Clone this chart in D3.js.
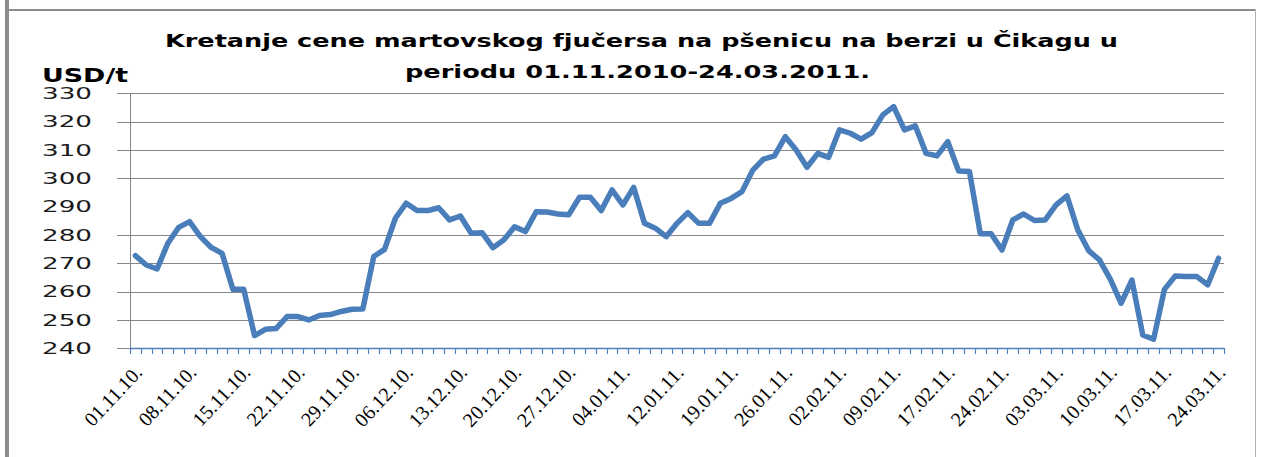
<!DOCTYPE html>
<html>
<head>
<meta charset="utf-8">
<script src="https://cdn.jsdelivr.net/npm/d3@7/dist/d3.min.js"></script>
<style>
  html, body { margin: 0; padding: 0; background: #ffffff; }
  svg { display: block; }
</style>
</head>
<body>
<svg id="chart" width="1265" height="457"></svg>
<script>
// ---- data ----
const dates = [
  "01.11.10.","02.11.10.","03.11.10.","04.11.10.","05.11.10.","08.11.10.","09.11.10.","10.11.10.","11.11.10.","12.11.10.",
  "15.11.10.","16.11.10.","17.11.10.","18.11.10.","19.11.10.","22.11.10.","23.11.10.","24.11.10.","25.11.10.","26.11.10.",
  "29.11.10.","30.11.10.","01.12.10.","02.12.10.","03.12.10.","06.12.10.","07.12.10.","08.12.10.","09.12.10.","10.12.10.",
  "13.12.10.","14.12.10.","15.12.10.","16.12.10.","17.12.10.","20.12.10.","21.12.10.","22.12.10.","23.12.10.","24.12.10.",
  "27.12.10.","28.12.10.","29.12.10.","30.12.10.","31.12.10.","04.01.11.","05.01.11.","06.01.11.","10.01.11.","11.01.11.",
  "12.01.11.","13.01.11.","14.01.11.","17.01.11.","18.01.11.","19.01.11.","20.01.11.","21.01.11.","24.01.11.","25.01.11.",
  "26.01.11.","27.01.11.","28.01.11.","31.01.11.","01.02.11.","02.02.11.","03.02.11.","04.02.11.","07.02.11.","08.02.11.",
  "09.02.11.","10.02.11.","11.02.11.","14.02.11.","16.02.11.","17.02.11.","18.02.11.","21.02.11.","22.02.11.","23.02.11.",
  "24.02.11.","25.02.11.","28.02.11.","01.03.11.","02.03.11.","03.03.11.","04.03.11.","07.03.11.","08.03.11.","09.03.11.",
  "10.03.11.","11.03.11.","14.03.11.","15.03.11.","16.03.11.","17.03.11.","18.03.11.","21.03.11.","22.03.11.","23.03.11.",
  "24.03.11."
];
const prices = [
  272.7, 269.4, 268.0, 277.1, 282.7, 284.7, 279.4, 275.6, 273.5, 260.8,
  260.8, 244.5, 246.7, 247.0, 251.2, 251.2, 250.0, 251.6, 251.9, 253.0,
  253.8, 253.9, 272.4, 274.9, 285.9, 291.2, 288.6, 288.6, 289.6, 285.3,
  286.7, 280.6, 280.8, 275.5, 278.2, 282.9, 281.2, 288.2, 288.1, 287.4,
  287.1, 293.3, 293.3, 288.6, 295.9, 290.6, 296.8, 284.1, 282.4, 279.4,
  284.1, 287.9, 284.1, 284.1, 291.2, 292.9, 295.3, 302.9, 306.8, 307.9,
  314.7, 310.0, 303.9, 308.8, 307.4, 317.1, 315.9, 313.8, 316.1, 322.4,
  325.3, 317.1, 318.5, 308.8, 307.9, 312.9, 302.6, 302.4, 280.4, 280.4,
  274.7, 285.3, 287.4, 285.1, 285.3, 290.6, 293.8, 281.8, 274.5, 271.2,
  264.4, 255.9, 264.1, 244.7, 243.2, 260.8, 265.5, 265.3, 265.3, 262.4,
  271.8
];
const yTicks = [240, 250, 260, 270, 280, 290, 300, 310, 320, 330];
const gridValues = [250, 260, 270, 280, 300, 310, 320, 330];
const xLabelEvery = 5;
const titleLines = ["Kretanje cene martovskog fjučersa na pšenicu na berzi u Čikagu  u",
                    "periodu 01.11.2010-24.03.2011."];
const unitLabel = "USD/t";

// ---- layout ----
const svg = d3.select("#chart");
const L = 130, R = 1224, T = 93.3, B = 348.3;

const x = d3.scaleBand().domain(dates).range([L, R]).paddingInner(0).paddingOuter(0);
const y = d3.scaleLinear().domain([240, 330]).range([B, T]);

// frame
svg.append("rect").attr("x", 5).attr("y", 0).attr("width", 4).attr("height", 457).attr("fill", "#8c8c8c");
svg.append("rect").attr("x", 9).attr("y", 9).attr("width", 1247).attr("height", 2).attr("fill", "#8c8c8c");
svg.append("rect").attr("x", 1255).attr("y", 9).attr("width", 1).attr("height", 448).attr("fill", "#b0b0b0");

// gridlines + y tick marks
svg.append("g").selectAll("line").data(gridValues).join("line")
  .attr("x1", 117).attr("x2", R)
  .attr("y1", d => Math.round(y(d)) + 0.5).attr("y2", d => Math.round(y(d)) + 0.5)
  .attr("stroke", "#868686").attr("stroke-width", 1);

// y axis line
svg.append("line").attr("x1", L + 0.5).attr("x2", L + 0.5).attr("y1", T).attr("y2", B)
  .attr("stroke", "#868686").attr("stroke-width", 1);
svg.append("line").attr("x1", 117).attr("x2", L).attr("y1", Math.round(B) + 0.5).attr("y2", Math.round(B) + 0.5)
  .attr("stroke", "#868686").attr("stroke-width", 1);

// y labels
svg.append("g").selectAll("text").data(yTicks).join("text")
  .attr("x", 42).attr("y", d => y(d)).attr("dy", "0.36em")
  .attr("textLength", 50).attr("lengthAdjust", "spacingAndGlyphs")
  .attr("font-family", "DejaVu Sans, sans-serif").attr("font-size", 16)
  .attr("fill", "#1a1a1a")
  .text(d => d);

// x axis
const bounds = dates.map(d => x(d)).concat([R]);
svg.append("line").attr("x1", L).attr("x2", R).attr("y1", Math.round(B) + 0.5).attr("y2", Math.round(B) + 0.5)
  .attr("stroke", "#4F81BD").attr("stroke-width", 1.5);
svg.append("g").selectAll("line").data(bounds).join("line")
  .attr("x1", d => Math.round(d) + 0.5).attr("x2", d => Math.round(d) + 0.5)
  .attr("y1", Math.round(B)).attr("y2", Math.round(B) + 6)
  .attr("stroke", "#4F81BD").attr("stroke-width", 1.2);

// x labels
svg.append("g").selectAll("text").data(dates.filter((d, i) => i % xLabelEvery === 0)).join("text")
  .attr("transform", d => `translate(${x(d) + x.bandwidth() / 2 + 8},${B + 25}) rotate(-47)`)
  .attr("text-anchor", "end")
  .attr("font-family", "Liberation Serif, serif").attr("font-size", 20)
  .attr("fill", "#000")
  .text(d => d);

// line
const line = d3.line().x((d, i) => x(dates[i]) + x.bandwidth() / 2).y(d => y(d));
svg.append("path").datum(prices).attr("d", line)
  .attr("fill", "none").attr("stroke", "#4A7EBB").attr("stroke-width", 5.5)
  .attr("stroke-linejoin", "round").attr("stroke-linecap", "round");

// title
svg.append("text").attr("x", 165).attr("y", 47)
  .attr("textLength", 953).attr("lengthAdjust", "spacingAndGlyphs")
  .attr("font-family", "DejaVu Sans, sans-serif").attr("font-weight", "bold").attr("font-size", 18)
  .attr("fill", "#000").text(titleLines[0]);
svg.append("text").attr("x", 405).attr("y", 78)
  .attr("textLength", 465).attr("lengthAdjust", "spacingAndGlyphs")
  .attr("font-family", "DejaVu Sans, sans-serif").attr("font-weight", "bold").attr("font-size", 18)
  .attr("fill", "#000").text(titleLines[1]);
svg.append("text").attr("x", 42).attr("y", 82)
  .attr("textLength", 86).attr("lengthAdjust", "spacingAndGlyphs")
  .attr("font-family", "DejaVu Sans, sans-serif").attr("font-weight", "bold").attr("font-size", 19)
  .attr("fill", "#000").text(unitLabel);
</script>
</body>
</html>
